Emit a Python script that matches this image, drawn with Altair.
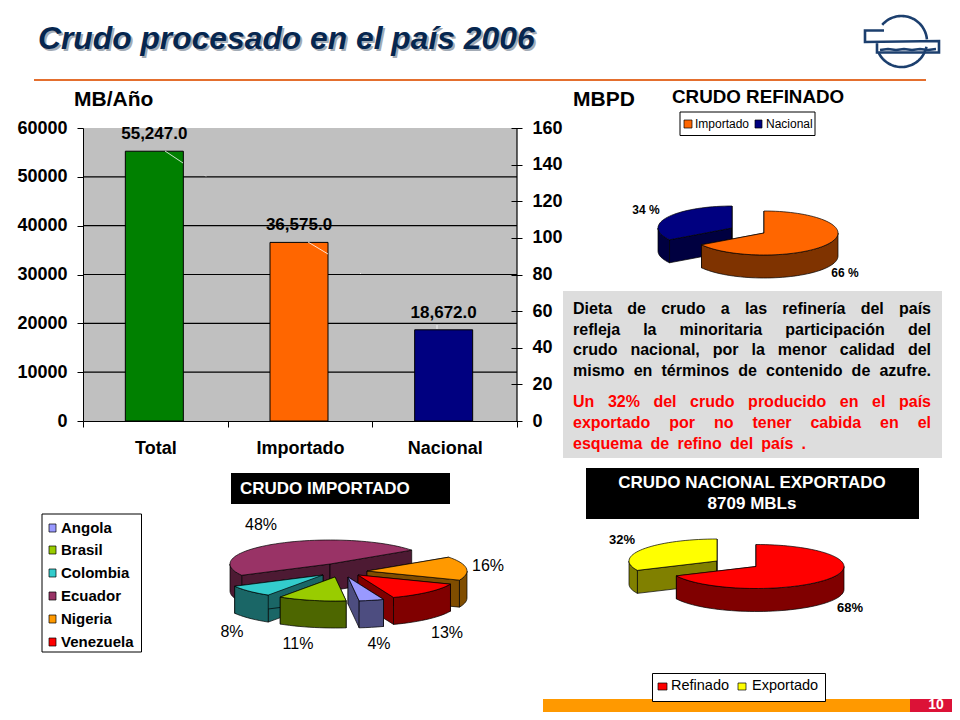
import math
import unicodedata
import altair as alt
import pandas as pd

# ---------- values ----------
bar_categories = ["Total", "Importado", "Nacional"]
bar_values = [55247.0, 36575.0, 18672.0]
bar_labels = ["55,247.0", "36,575.0", "18,672.0"]
bar_colors = ["#008000", "#FF6600", "#000080"]
left_ticks = [0, 10000, 20000, 30000, 40000, 50000, 60000]
grid_values = [10000, 20000, 30000, 40000, 50000]
right_ticks = [0, 20, 40, 60, 80, 100, 120, 140, 160]

refinado_names = ["Importado", "Nacional"]
refinado_values = [66, 34]
importado_names = ["Angola", "Brasil", "Colombia", "Ecuador", "Nigeria", "Venezuela"]
importado_values = [4, 11, 8, 48, 16, 13]
exportado_names = ["Refinado", "Exportado"]
exportado_values = [68, 32]

text_black = [
    "Dieta de crudo a las refinería del país",
    "refleja la minoritaria participación del",
    "crudo nacional, por la menor calidad del",
    "mismo en términos de contenido de azufre.",
]
text_red = [
    "Un 32% del crudo producido en el país",
    "exportado por no tener cabida en el",
    "esquema de refino del país .",
]

# ---------- layout ----------
M = 8  # page margin
W, H = 944, 704
FONT = "Liberation Sans"
def X(v): return v - M
def Y(v): return v - M

layers = []

def rect(x0, y0, x1, y1, fill, stroke=None, sw=1):
    kw = dict(fill=fill, strokeWidth=sw)
    kw["stroke"] = stroke if stroke else fill
    if not stroke:
        kw["strokeWidth"] = 0
    return alt.Chart(pd.DataFrame({"a": [0]})).mark_rect(**kw).encode(
        x=alt.value(X(x0)), x2=alt.value(X(x1)), y=alt.value(Y(y0)), y2=alt.value(Y(y1)))

def line(x0, y0, x1, y1, color, sw=1):
    return alt.Chart(pd.DataFrame({"a": [0]})).mark_rule(color=color, strokeWidth=sw).encode(
        x=alt.value(X(x0)), x2=alt.value(X(x1)), y=alt.value(Y(y0)), y2=alt.value(Y(y1)))

def label(s, x, y, size=14, bold=False, italic=False, color="black", align="left", font=FONT):
    kw = dict(font=font, fontSize=size, color=color, align=align, baseline="middle")
    if bold:
        kw["fontWeight"] = "bold"
    if italic:
        kw["fontStyle"] = "italic"
    return alt.Chart(pd.DataFrame({"a": [0]})).mark_text(**kw).encode(
        x=alt.value(X(x)), y=alt.value(Y(y)), text=alt.value(s))

# ---------- slide furniture ----------
layers += [
    label("Crudo procesado en el país 2006", 40, 40.5, 31.8, True, True, "#A3ABB5"),
    label("Crudo procesado en el país 2006", 38, 38.5, 31.8, True, True, "#06264F"),
    line(34, 80, 926, 80, "#E46F2E", 2),
    rect(543, 699, 910, 712, "#FF9900"),
    rect(910, 699, 952, 712, "#DC1237"),
    label("10", 936, 705, 14, True, color="white", align="center"),
    label("MB/Año", 74, 100, 21, True),
    label("MBPD", 573, 100, 21, True),
    label("CRUDO REFINADO", 672, 97, 18.8, True),
    rect(563, 291, 942, 458, "#DDDDDD"),
    rect(231, 473, 450, 504, "black"),
    label("CRUDO IMPORTADO", 240, 489, 17, True, color="white"),
    rect(586, 468, 919, 519, "black"),
    label("CRUDO NACIONAL EXPORTADO", 752, 483, 17, True, color="white", align="center"),
    label("8709 MBLs", 752, 504, 17, True, color="white", align="center"),
]

# ---------- logo ----------
NAVY = "#1C3F6E"
LCX, LCY, LR = 901.5, 41.5, 25.5
def logo_arc(a0, a1):
    n = 40
    return [[X(LCX + LR * math.sin(math.radians(a0 + (a1 - a0) * i / n))),
             Y(LCY - LR * math.cos(math.radians(a0 + (a1 - a0) * i / n)))] for i in range(n + 1)]
def logo_pts(pts):
    return [[X(a), Y(b)] for a, b in pts]
logo_lines = [
    logo_arc(-49, 85),
    logo_arc(102, 245),
    logo_pts([(884, 30.5), (865, 30.5), (865, 42), (939, 41), (939, 52.5), (877, 52.5), (877, 42)]),
]
logo_features = [{"type": "Feature", "properties": {}, "geometry": {"type": "LineString", "coordinates": c}}
                 for c in logo_lines]
wave = [(880, 50), (888, 49), (896, 50), (904, 49), (912, 50), (920, 49), (928, 50), (936, 49)]
logo_features.append({"type": "Feature", "properties": {},
                      "geometry": {"type": "LineString", "coordinates": logo_pts(wave)}})
PROJ = dict(type="identity", scale=1, translate=[0, 0])
layers.append(alt.Chart(alt.Data(values=logo_features)).mark_geoshape(
    filled=False, stroke=NAVY, strokeWidth=2.6).project(**PROJ))

# ---------- bar chart ----------
BAR_X = alt.Scale(type="band", domain=bar_categories, range=[X(83), X(517)], paddingInner=0, paddingOuter=0)
BAR_Y = alt.Scale(domain=[0, 60000], range=[Y(421), Y(128)])
RIGHT_Y = alt.Scale(domain=[0, 160], range=[Y(421), Y(128)])
bars_df = pd.DataFrame({"cat": bar_categories, "v": bar_values, "lab": bar_labels, "col": bar_colors})

layers.append(rect(83, 128, 517, 421, "#C0C0C0"))
layers.append(alt.Chart(pd.DataFrame({"g": grid_values})).mark_rule(color="black", strokeWidth=1.2).encode(
    x=alt.value(X(83)), x2=alt.value(X(517)),
    y=alt.Y("g:Q", scale=BAR_Y, axis=None)))
layers.append(line(517, 128, 517, 421, "black", 1.2))

axis_common = dict(labelFont=FONT, labelFontWeight="bold", labelColor="black",
                   tickColor="black", title=None, grid=False, zindex=1)
layers.append(alt.Chart(bars_df).mark_bar(size=58, xOffset=-1, stroke="black", strokeWidth=1).encode(
    x=alt.X("cat:N", scale=BAR_X, sort=bar_categories,
            axis=alt.Axis(orient="bottom", offset=-(H - Y(421)), labelFontSize=18, labelAngle=0,
                          tickSize=6, tickBand="extent", labelPadding=12, domainColor="black",
                          **axis_common)),
    y=alt.Y("v:Q", scale=BAR_Y,
            axis=alt.Axis(orient="left", offset=-X(83), values=left_ticks, format="d", labelFontSize=18,
                          tickSize=6, labelPadding=10, domainColor="black", **axis_common)),
    fill=alt.Fill("col:N", scale=None),
))
layers.append(alt.Chart(bars_df).mark_text(font=FONT, fontWeight="bold", fontSize=17, dy=-17, dx=-1,
                                           baseline="middle", color="black").encode(
    x=alt.X("cat:N", scale=BAR_X, sort=bar_categories, axis=None),
    y=alt.Y("v:Q", scale=BAR_Y, axis=None),
    text="lab:N",
))
layers.append(alt.Chart(pd.DataFrame({"t": right_ticks})).mark_point(opacity=0).encode(
    x=alt.value(0),
    y=alt.Y("t:Q", scale=RIGHT_Y,
            axis=alt.Axis(orient="right", offset=-(W - X(511)), values=right_ticks, format="d", labelFontSize=18,
                          tickSize=11, labelPadding=10, domain=False, **axis_common)),
))
for seg in [(165, 151, 183, 163), (205, 175.5, 206, 176.5), (308, 242, 328, 254),
            (360, 273, 361, 274), (437, 325, 437, 329)]:
    layers.append(line(*seg, "white", 0.8))

# ---------- pseudo 3-D pies, computed from the values ----------
def p(cx, cy, rx, ry, a):
    r = math.radians(a)
    return (cx + rx * math.sin(r), cy - ry * math.cos(r))

def feat(points, fill):
    ring = [[X(a), Y(b)] for a, b in points]
    ring.append(ring[0])
    return {"type": "Feature", "properties": {"fill": fill},
            "geometry": {"type": "Polygon", "coordinates": [ring]}}

def wedge(cx, cy, rx, ry, d, a0, a1, top, side):
    out = []
    for a in (a0, a1):
        t = p(cx, cy, rx, ry, a)
        out.append(feat([(cx, cy), t, (t[0], t[1] + d), (cx, cy + d)], side))
    for lo, hi in ((90, 270), (450, 630)):
        s, e = max(a0, lo), min(a1, hi)
        if e > s:
            n = max(2, int((e - s) / 3))
            arc = [p(cx, cy, rx, ry, s + (e - s) * i / n) for i in range(n + 1)]
            out.append(feat(arc + [(q[0], q[1] + d) for q in reversed(arc)], side))
    n = max(2, int((a1 - a0) / 3))
    arc = [p(cx, cy, rx, ry, a0 + (a1 - a0) * i / n) for i in range(n + 1)]
    out.append(feat([(cx, cy)] + arc, top))
    return out

def pie(values, rotation, centers, rx, ry, d, tops, sides, order):
    spans, a = [], rotation
    for v in values:
        spans.append((a, a + v * 3.6))
        a += v * 3.6
    feats = []
    for i in order:
        feats += wedge(centers[i][0], centers[i][1], rx, ry, d, spans[i][0], spans[i][1], tops[i], sides[i])
    return feats

pie_features = []
pie_features += pie(refinado_values, 0, [(764, 233), (732, 228)], 74, 22, 23,
                    ["#FF6600", "#000080"], ["#7F3300", "#000040"], [1, 0])
pie_features += pie(importado_values, 159.2,
                    [(348, 577), (335, 577), (323, 575), (330, 564), (367, 571), (358, 575)],
                    100, 24, 27,
                    ["#9999FF", "#99CC00", "#33CCCC", "#993366", "#FF9900", "#FF0000"],
                    ["#4D4D80", "#4D6600", "#1A6666", "#4D1A33", "#804D00", "#800000"],
                    [3, 4, 2, 5, 1, 0])
pie_features += pie(exportado_values, 0, [(756, 566.5), (717, 561)], 88, 22, 23,
                    ["#FF0000", "#FFFF00"], ["#800000", "#808000"], [1, 0])
layers.append(alt.Chart(alt.Data(values=pie_features)).mark_geoshape(stroke="black", strokeWidth=0.7).encode(
    fill=alt.Fill("properties.fill:N", scale=None)).project(**PROJ))

# percent labels
pos1 = [(845, 273), (646, 210)]
for v, (x, y) in zip(refinado_values, pos1):
    layers.append(label(f"{v} %", x, y, 12, True, align="center"))
pos3 = [(379, 644), (298, 644), (232, 632), (261, 525), (488, 566), (447, 633)]
for v, (x, y) in zip(importado_values, pos3):
    layers.append(label(f"{v}%", x, y, 16, align="center"))
pos4 = [(850, 608), (622, 540)]
for v, (x, y) in zip(exportado_values, pos4):
    layers.append(label(f"{v}%", x, y, 13, True, align="center"))

# ---------- legends ----------
layers.append(rect(680, 112, 815, 135.5, "white", "black"))
layers.append(rect(684, 120, 692, 128, "#FF6600", "black", 0.7))
layers.append(label(refinado_names[0], 695, 124, 12))
layers.append(rect(755, 120, 762, 128, "#000080", "black", 0.7))
layers.append(label(refinado_names[1], 766, 124, 12))

layers.append(rect(42, 514, 141.5, 652, "white", "black"))
swatches3 = ["#9999FF", "#99CC00", "#33CCCC", "#993366", "#FF9900", "#FF0000"]
rows3 = [528, 550, 573, 596, 619, 642]
for name, col, yy in zip(importado_names, swatches3, rows3):
    layers.append(rect(49, yy - 4, 56, yy + 4, col, "black", 0.7))
    layers.append(label(name, 61, yy, 15, True))

layers.append(rect(652.5, 673.5, 825.5, 701.5, "white", "black"))
layers.append(rect(658, 683, 667, 690, "#FF0000", "black", 0.7))
layers.append(label(exportado_names[0], 671, 686, 14.5))
layers.append(rect(738, 683, 746, 690, "#FFFF00", "black", 0.7))
layers.append(label(exportado_names[1], 752, 686, 14.5))

# ---------- justified paragraph ----------
AB = dict(a=556, b=611, c=556, d=611, e=556, f=333, g=611, h=611, i=278, j=278, k=556, l=278, m=889,
          n=611, o=611, p=611, q=611, r=389, s=556, t=333, u=611, v=556, w=778, x=556, y=556, z=500,
          D=722, U=722)
AB.update({",": 278, ".": 278, "%": 889})
def word_w(word, size):
    total = 0
    for ch in word:
        base = unicodedata.normalize("NFD", ch)[0]
        total += 556 if base.isdigit() else AB.get(base, 600)
    return total * size / 1000

PSIZE = 16
def justified(lines, ys, color, x0=573, x1=931, last_end=None):
    rows = []
    for li, (text, yy) in enumerate(zip(lines, ys)):
        words = text.split()
        end = last_end if (last_end and li == len(lines) - 1) else x1
        widths = [word_w(w, PSIZE) for w in words]
        gap = (end - x0 - sum(widths)) / (len(words) - 1)
        cur = x0
        for w, wd in zip(words, widths):
            rows.append({"w": w, "x": X(cur), "y": Y(yy)})
            cur += wd + gap
    return alt.Chart(pd.DataFrame(rows)).mark_text(
        font=FONT, fontWeight="bold", fontSize=PSIZE, align="left", baseline="middle", color=color).encode(
        x=alt.X("x:Q", scale=None), y=alt.Y("y:Q", scale=None), text="w:N")

layers.append(justified(text_black, [309, 330, 350, 371], "black"))
layers.append(justified(text_red, [401.5, 422.5, 444], "#FF0000", last_end=806))

chart = alt.layer(*layers).resolve_scale(x="independent", y="independent").properties(
    width=W, height=H, padding=0, autosize=alt.AutoSizeParams(type="none"), background="white",
).configure_view(stroke=None)

chart.save("out.html", embed_options={"renderer": "svg", "actions": False})
